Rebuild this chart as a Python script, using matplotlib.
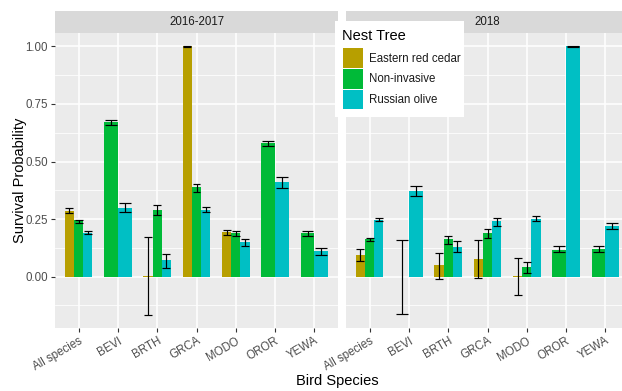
import numpy as np
import matplotlib
matplotlib.use("Agg")
import matplotlib.pyplot as plt
from matplotlib.patches import Rectangle

plt.rcParams['font.family'] = ['Liberation Sans', 'DejaVu Sans']

species = ["All species", "BEVI", "BRTH", "GRCA", "MODO", "OROR", "YEWA"]
trees = ["Eastern red cedar", "Non-invasive", "Russian olive"]
tree_colors = ["#B79F00", "#00BA38", "#00BFC4"]
years = ["2016-2017", "2018"]
nan = np.nan

# 2016-2017 survival estimates with lower / upper bounds
cedar_1617 = [0.287, nan, 0.004, 1.000, 0.193, nan, nan]
cedar_1617_lo = [0.277, nan, -0.165, 0.998, 0.180, nan, nan]
cedar_1617_hi = [0.298, nan, 0.172, 1.000, 0.203, nan, nan]
noninv_1617 = [0.245, 0.671, 0.291, 0.388, 0.189, 0.582, 0.188]
noninv_1617_lo = [0.232, 0.659, 0.266, 0.369, 0.178, 0.568, 0.176]
noninv_1617_hi = [0.248, 0.680, 0.309, 0.404, 0.199, 0.589, 0.199]
olive_1617 = [0.190, 0.300, 0.072, 0.291, 0.152, 0.410, 0.111]
olive_1617_lo = [0.183, 0.279, 0.039, 0.279, 0.131, 0.386, 0.093]
olive_1617_hi = [0.196, 0.319, 0.098, 0.302, 0.165, 0.431, 0.124]

# 2018 survival estimates with lower / upper bounds
cedar_18 = [0.095, 0.000, 0.049, 0.076, 0.004, nan, nan]
cedar_18_lo = [0.066, -0.162, -0.012, -0.007, -0.078, nan, nan]
cedar_18_hi = [0.118, 0.160, 0.102, 0.160, 0.082, nan, nan]
noninv_18 = [0.163, nan, 0.163, 0.189, 0.040, 0.117, 0.118]
noninv_18_lo = [0.153, nan, 0.141, 0.167, 0.014, 0.106, 0.105]
noninv_18_hi = [0.166, nan, 0.177, 0.208, 0.062, 0.134, 0.133]
olive_18 = [0.248, 0.372, 0.130, 0.241, 0.250, 1.000, 0.218]
olive_18_lo = [0.241, 0.348, 0.105, 0.221, 0.240, 0.999, 0.206]
olive_18_hi = [0.255, 0.395, 0.153, 0.255, 0.263, 1.000, 0.231]

panels = [
    ([cedar_1617, noninv_1617, olive_1617],
     [cedar_1617_lo, noninv_1617_lo, olive_1617_lo],
     [cedar_1617_hi, noninv_1617_hi, olive_1617_hi]),
    ([cedar_18, noninv_18, olive_18],
     [cedar_18_lo, noninv_18_lo, olive_18_lo],
     [cedar_18_hi, noninv_18_hi, olive_18_hi]),
]

W, H = 622, 391
fig = plt.figure(figsize=(W / 100, H / 100), dpi=100)
fig.patch.set_facecolor("white")


def fx(px):
    return px / W


def fy(py):
    return 1 - py / H


panel_top, panel_bot = 33, 328
panel_w = 283
panel_lefts = [55, 346]

all_lo = np.concatenate([np.array(l, float) for p in panels for l in p[1]])
all_hi = np.concatenate([np.array(h, float) for p in panels for h in p[2]])
ymin, ymax = np.nanmin(all_lo), np.nanmax(all_hi)
span = ymax - ymin
ylim = (ymin - 0.05 * span, ymax + 0.05 * span)

dodge = 0.7
cap_total = 0.6
err_lw = 0.85
axes = []
for k, (vals, los, his) in enumerate(panels):
    ax = fig.add_axes([fx(panel_lefts[k]), fy(panel_bot), fx(panel_w),
                       (panel_bot - panel_top) / H])
    axes.append(ax)
    ax.set_facecolor("#EBEBEB")
    for s in ax.spines.values():
        s.set_visible(False)
    ax.set_xlim(-0.6, len(species) - 1 + 0.6)
    ax.set_ylim(*ylim)
    ax.set_yticks([0, 0.25, 0.5, 0.75, 1.0])
    ax.set_yticks([-0.125, 0.125, 0.375, 0.625, 0.875], minor=True)
    ax.grid(True, which="major", color="white", lw=1.1)
    ax.grid(True, which="minor", axis="y", color="white", lw=0.55)
    ax.set_axisbelow(True)
    ax.set_xticks(range(len(species)))
    ax.set_xticklabels(species, rotation=30, ha="right", va="top",
                       rotation_mode="anchor", color="#4D4D4D", fontsize=8.3)
    ax.tick_params(axis="both", which="major", length=3, width=0.8,
                   color="#333333", pad=2)
    ax.tick_params(axis="y", which="minor", length=0)
    if k == 0:
        ax.set_yticklabels(["0.00", "0.25", "0.50", "0.75", "1.00"],
                           color="#4D4D4D", fontsize=8.3)
    else:
        ax.tick_params(axis="y", which="major", length=0, labelleft=False)

    for i in range(len(species)):
        present = [t for t in range(len(trees)) if not np.isnan(vals[t][i])]
        n = len(present)
        bw = dodge / n
        for j, t in enumerate(present):
            x = i - dodge / 2 + bw * (j + 0.5)
            ax.bar(x, vals[t][i], width=bw, color=tree_colors[t],
                   edgecolor="none", zorder=2)
            cw = cap_total / n / 2
            ax.plot([x, x], [los[t][i], his[t][i]], color="black",
                    lw=err_lw, zorder=3, solid_capstyle="butt")
            for yv in (los[t][i], his[t][i]):
                ax.plot([x - cw, x + cw], [yv, yv], color="black",
                        lw=err_lw, zorder=3, solid_capstyle="butt")

    # facet strip
    fig.add_artist(Rectangle((fx(panel_lefts[k]), fy(panel_top - 0.5)),
                             fx(panel_w), (panel_top - 0.5 - 11) / H,
                             transform=fig.transFigure, facecolor="#D9D9D9",
                             edgecolor="none", zorder=0))
    fig.text(fx(panel_lefts[k] + panel_w / 2), fy(22), years[k],
             ha="center", va="center", fontsize=8.3, color="#1A1A1A")

fig.text(fx(20), fy((panel_top + panel_bot) / 2), "Survival Probability",
         rotation=90, ha="center", va="center", fontsize=10.5, color="black")
fig.text(fx(337), fy(381), "Bird Species", ha="center", va="center",
         fontsize=10.5, color="black")

# legend
fig.add_artist(Rectangle((fx(335), fy(117)), fx(464 - 335), (117 - 21) / H,
                         transform=fig.transFigure, facecolor="white",
                         edgecolor="none", zorder=5))
fig.text(fx(342), fy(36), "Nest Tree", ha="left", va="center",
         fontsize=10.5, color="black", zorder=6)
row_tops = [48.5, 69.2, 89.9]
for t, name in enumerate(trees):
    top = row_tops[t]
    fig.add_artist(Rectangle((fx(343), fy(top + 19.5)), fx(19.5), 19.5 / H,
                             transform=fig.transFigure,
                             facecolor=tree_colors[t], edgecolor="none",
                             zorder=6))
    fig.text(fx(369), fy(top + 10), name, ha="left", va="center",
             fontsize=8.3, color="#1A1A1A", zorder=6)

fig.savefig("out.png", dpi=100, facecolor="white")
